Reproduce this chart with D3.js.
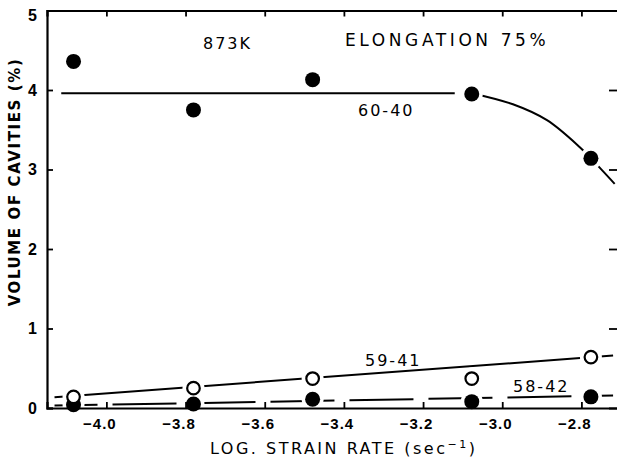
<!DOCTYPE html>
<html>
<head>
<meta charset="utf-8">
<script src="https://cdn.jsdelivr.net/npm/d3@7/dist/d3.min.js"></script>
<style>
  body { margin: 0; background: #fff; }
  svg { display: block; font-family: "DejaVu Sans", sans-serif; }
</style>
</head>
<body>
<div id="chart"></div>
<script>
// log strain rate values where the specimens were tested
const strainRates = [-4.083, -3.78, -3.479, -3.077, -2.776];

// volume of cavities (%) for each alloy
const alloy6040 = [4.36, 3.75, 4.13, 3.95, 3.14];
const alloy5941 = [0.14, 0.25, 0.37, 0.37, 0.64];
const alloy5842 = [0.04, 0.05, 0.11, 0.08, 0.14];

// hand drawn trend lines, in data units
const trend6040Flat = [[-4.114, 3.96], [-3.12, 3.96]];
const trend6040Drop = [[-3.077, 3.96], [-2.973, 3.82], [-2.887, 3.62], [-2.804, 3.28], [-2.776, 3.14], [-2.716, 2.82]];
const trend5941 = [[-4.131, 0.135], [-2.72, 0.66]];
const trend5842 = [[-4.131, 0.03], [-2.72, 0.157]];

// ticks
const xTicks = [-4.0, -3.8, -3.6, -3.4, -3.2, -3.0, -2.8];
const yTicks = [0, 1, 2, 3, 4, 5];

const width = 617, height = 460;

const x = d3.scaleLinear().domain([-4.15, -2.7]).range([47, 621]);
const y = d3.scaleLinear().domain([0, 5]).range([408, 10.5]);

const svg = d3.select("#chart").append("svg")
    .attr("width", width)
    .attr("height", height);

const line = d3.line().x(d => x(d[0])).y(d => y(d[1]));

//trend lines first, then white halos so lines stop short of the markers
const lines = svg.append("g")
    .attr("fill", "none")
    .attr("stroke", "#000")
    .attr("stroke-width", 2);

lines.append("path").attr("d", line(trend6040Flat));
lines.append("path").attr("d", line.curve(d3.curveCatmullRom)(trend6040Drop));
line.curve(d3.curveLinear);
lines.append("path").attr("d", line(trend5941));
lines.append("path").attr("d", line(trend5842))
    .attr("stroke-dasharray", "64,15")
    .attr("stroke-dashoffset", 21);

const halos = svg.append("g").attr("fill", "#fff");
[alloy6040, alloy5941, alloy5842].forEach(series => {
    halos.selectAll(null)
        .data(series)
        .enter().append("circle")
        .attr("cx", (d, i) => x(strainRates[i]))
        .attr("cy", d => y(d))
        .attr("r", 11);
});

// frame and axes
const axes = svg.append("g")
    .attr("font-family", "DejaVu Sans, sans-serif");

const bottomAxis = axes.append("g")
    .attr("transform", `translate(0,${y(0)})`)
    .call(d3.axisBottom(x).tickValues(xTicks).tickSize(-6).tickPadding(10)
        .tickFormat(d => "\u2212" + d3.format(".1f")(-d)));

const topAxis = axes.append("g")
    .attr("transform", `translate(0,${y(5)})`)
    .call(d3.axisTop(x).tickValues(xTicks).tickSize(-6).tickFormat(""));

const leftAxis = axes.append("g")
    .attr("transform", `translate(${x(-4.15)},0)`)
    .call(d3.axisLeft(y).tickValues(yTicks).tickSize(-6).tickPadding(10)
        .tickFormat(d3.format("d")));

const rightAxis = axes.append("g")
    .attr("transform", `translate(${x(-2.7)},0)`)
    .call(d3.axisRight(y).tickValues([1, 2, 3, 4]).tickSize(-12).tickFormat(""));

axes.selectAll(".domain").attr("stroke-width", 2.2).attr("stroke", "#000");
axes.selectAll(".tick line").attr("stroke-width", 1.8).attr("stroke", "#000");

bottomAxis.selectAll(".tick text")
    .attr("font-size", 15)
    .attr("font-weight", "bold")
    .attr("dx", -7)
    .attr("letter-spacing", 1);

leftAxis.selectAll(".tick text")
    .attr("font-size", 16)
    .attr("font-weight", "bold");

leftAxis.selectAll(".tick")
    .filter(d => d == 5)
    .select("text").attr("dy", "0.6em");

// markers
const dots = svg.append("g");

dots.selectAll(".dot5842")
    .data(alloy5842)
    .enter().append("circle")
    .attr("class", "dot5842")
    .attr("cx", (d, i) => x(strainRates[i]))
    .attr("cy", d => y(d))
    .attr("r", 7.5)
    .attr("fill", "#000");

dots.selectAll(".dot5941")
    .data(alloy5941)
    .enter().append("circle")
    .attr("class", "dot5941")
    .attr("cx", (d, i) => x(strainRates[i]))
    .attr("cy", d => y(d))
    .attr("r", 6.3)
    .attr("fill", "#fff")
    .attr("stroke", "#000")
    .attr("stroke-width", 2.2);

dots.selectAll(".dot6040")
    .data(alloy6040)
    .enter().append("circle")
    .attr("class", "dot6040")
    .attr("cx", (d, i) => x(strainRates[i]))
    .attr("cy", d => y(d))
    .attr("r", 7.5)
    .attr("fill", "#000");

// annotations
const notes = svg.append("g")
    .attr("font-size", 16)
    .attr("fill", "#000");

notes.append("text").attr("x", 203).attr("y", 49)
    .attr("letter-spacing", 2).text("873K");
notes.append("text").attr("x", 345).attr("y", 46)
    .attr("font-size", 17)
    .attr("letter-spacing", 3.6).text("ELONGATION 75%");
notes.append("text").attr("x", 358).attr("y", 116)
    .attr("letter-spacing", 2).text("60-40");
notes.append("text").attr("x", 365).attr("y", 366)
    .attr("letter-spacing", 2).text("59-41");
notes.append("text").attr("x", 513).attr("y", 392)
    .attr("letter-spacing", 2).text("58-42");

// axis titles
svg.append("text")
    .attr("x", 210).attr("y", 454)
    .attr("font-size", 16)
    .attr("letter-spacing", 2.5)
    .text("LOG. STRAIN RATE (sec")
    .append("tspan").attr("dy", -6).attr("font-size", 11).text("\u22121")
    .clone().attr("dy", 6).attr("font-size", 16).text(")");

svg.append("text")
    .attr("transform", "translate(20,182) rotate(-90)")
    .attr("text-anchor", "middle")
    .attr("font-size", 15)
    .attr("font-weight", "bold")
    .attr("letter-spacing", 1.6)
    .text("VOLUME OF CAVITIES (%)");
</script>
</body>
</html>
